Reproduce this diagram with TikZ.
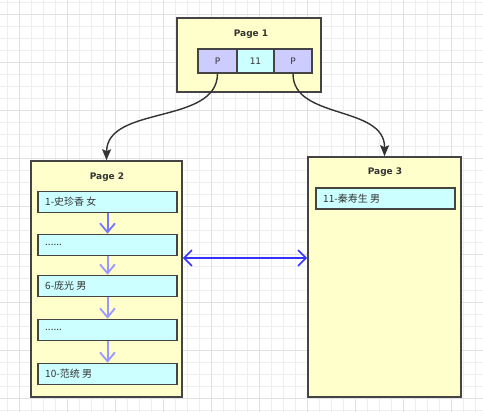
\documentclass[tikz,border=0pt]{standalone}
\usepackage{fontspec}
\setmainfont{DejaVu Sans}
\newfontfamily\cjk{Noto Sans CJK SC}
\usetikzlibrary{arrows.meta}
\definecolor{gridminor}{HTML}{EEEEEE}
\definecolor{gridmajor}{HTML}{E2E2E2}
\definecolor{pagebg}{HTML}{FFFFCC}
\definecolor{rowbg}{HTML}{CCFFFF}
\definecolor{ptrbg}{HTML}{CCCCFF}
\definecolor{edge}{HTML}{444444}
\definecolor{txt}{HTML}{333333}
\definecolor{linkblue}{HTML}{3333FF}
\definecolor{nextone}{HTML}{7777FF}
\definecolor{nextlight}{HTML}{9999FF}
\tikzset{
  pagebox/.style={draw=edge, fill=pagebg, line width=1.6pt, inner sep=0pt},
  rowbox/.style={draw=edge, fill=rowbg, line width=1.6pt, inner sep=0pt, minimum width=139pt, minimum height=21pt},
  cellbox/.style={draw=edge, line width=1.6pt, inner sep=0pt, minimum height=24pt, text=txt, font=\fontsize{9}{10}\selectfont},
  title/.style={text=txt, font=\bfseries\fontsize{9}{10}\selectfont, inner sep=0pt},
  rowtext/.style={text=txt, font=\cjk\fontsize{10}{12}\selectfont, inner sep=0pt, anchor=west},
  nextarrow/.style={line width=2pt, -{Straight Barb[length=9pt, width=15pt, line width=1.8pt]}},
  childarrow/.style={draw=txt, line width=1.4pt, -{Stealth[length=11pt, width=9pt, inset=2pt]}},
}
\begin{document}
\begin{tikzpicture}[x=1pt, y=-1pt]
\useasboundingbox (0,0) rectangle (483,412);
\fill[white] (0,0) rectangle (483,412);
% grid
\foreach \k in {0,...,39} {\draw[gridminor, line width=0.8pt] (7.5+12*\k,0) -- (7.5+12*\k,412);}
\foreach \k in {0,...,34} {\draw[gridminor, line width=0.8pt] (0,2.5+12*\k) -- (483,2.5+12*\k);}
\foreach \k in {0,...,9} {\draw[gridmajor, line width=0.8pt] (19.5+48*\k,0) -- (19.5+48*\k,412);}
\foreach \k in {0,...,8} {\draw[gridmajor, line width=0.8pt] (0,14.5+48*\k) -- (483,14.5+48*\k);}

% Page 1
\node[pagebox, minimum width=144pt, minimum height=74pt] (page1) at (249,55) {};
\node[title] (t1) at (251,34) {Page 1};
\node[cellbox, fill=ptrbg, minimum width=39pt] (p1) at (217.5,61) {P};
\node[cellbox, fill=rowbg, minimum width=37pt] (k11) at (255.5,61) {11};
\node[cellbox, fill=ptrbg, minimum width=38pt] (p2) at (293,61) {P};

% Page 2
\node[pagebox, minimum width=151pt, minimum height=236pt] (page2) at (106.5,279) {};
\node[title] (t2) at (107,177) {Page 2};
\node[rowbox] (r1) at (107.5,202) {};
\node[rowbox] (r2) at (107.5,245) {};
\node[rowbox] (r3) at (107.5,286) {};
\node[rowbox] (r4) at (107.5,330) {};
\node[rowbox] (r5) at (107.5,374) {};
\node[rowtext] (l1) at (45,202) {1-史珍香 女};
\node[rowtext] (l2) at (45,245) {......};
\node[rowtext] (l3) at (45,286) {6-庞光 男};
\node[rowtext] (l4) at (45,330) {......};
\node[rowtext] (l5) at (45,374) {10-范统 男};

% Page 3
\node[pagebox, minimum width=153pt, minimum height=240pt] (page3) at (384.5,277) {};
\node[title] (t3) at (385,172) {Page 3};
\node[rowbox] (r6) at (385.5,198.5) {};
\node[rowtext] (l6) at (323,198.5) {11-秦寿生 男};

% next-row arrows
\draw[nextarrow, draw=nextone] (r1.south) -- (r2.north);
\draw[nextarrow, draw=nextlight] (r2.south) -- (r3.north);
\draw[nextarrow, draw=nextlight] (r3.south) -- (r4.north);
\draw[nextarrow, draw=nextlight] (r4.south) -- (r5.north);

% sibling link
\coordinate (lk2) at (page2.east |- 0,258);
\coordinate (lk3) at (page3.west |- 0,258);
\draw[linkblue, line width=1.8pt, {Straight Barb[length=8pt, width=16pt, line width=1.6pt]}-{Straight Barb[length=8pt, width=16pt, line width=1.6pt]}] (lk2) -- (lk3);

% child pointers
\draw[childarrow] (p1.south) .. controls (217,125) and (107,105) .. (page2.north);
\draw[childarrow] (p2.south) .. controls (293,120) and (385,105) .. (page3.north);
\end{tikzpicture}
\end{document}
